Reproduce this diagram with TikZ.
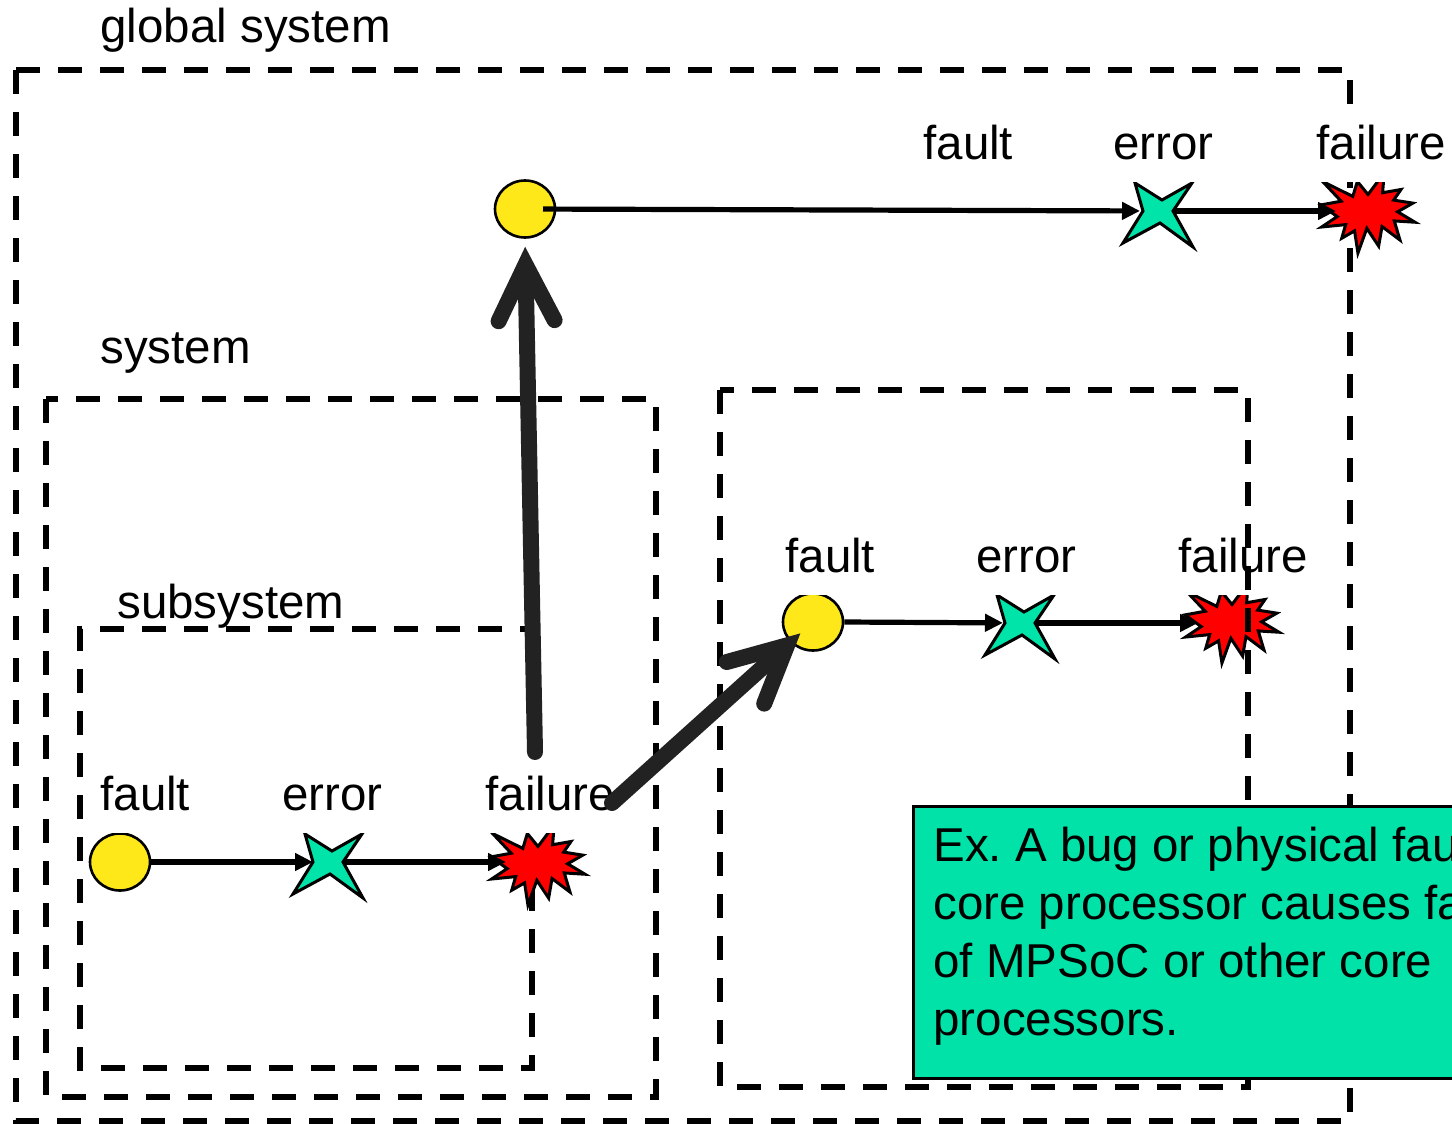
\documentclass[tikz,border=0pt]{standalone}
\usepackage{fontspec}
\setmainfont{Liberation Sans}
\usetikzlibrary{arrows.meta,shapes.geometric}

\definecolor{markyellow}{RGB}{255,232,26}
\definecolor{markgreen}{RGB}{0,228,170}
\definecolor{notegreen}{RGB}{0,226,168}
\definecolor{arrowgray}{RGB}{34,34,34}

\tikzset{
  boxline/.style={line width=2.6pt, dash pattern=on 12pt off 9pt},
  tag/.style={anchor=base west, inner sep=0pt, font=\fontsize{23.75}{29}\selectfont},
  rowtag/.style={tag, fill=white, inner xsep=2pt, text height=24pt, text depth=11.5pt},
  slot/.style={inner sep=0pt, minimum width=47pt, minimum height=40pt},
  yellowdot/.style={ellipse, draw=black, line width=1.3pt, fill=markyellow,
    minimum width=30pt, minimum height=28.5pt, inner sep=0pt},
  flow/.style={line width=2.6pt, -{Triangle[length=9pt,width=8.5pt]}},
  impact/.style={line width=8pt, draw=arrowgray, line cap=round,
    -{Straight Barb[length=28pt,width=28pt,line cap=round,line join=miter]}},
  notebox/.style={draw=black, line width=1.5pt, fill=notegreen, inner sep=0pt,
    minimum width=279pt, minimum height=136pt},
  fourstar/.pic={
    \draw[line width=1.5pt, fill=markgreen, line join=miter]
      (-23,-28) -- (4,-11) -- (34,-28) -- (15,0) -- (35,36) -- (2,12)
      -- (-35,32) -- (-15,0) -- cycle;},
  explosion/.pic={
    \draw[line width=1.5pt, fill=red, line join=miter, x=47pt, y=-40pt, shift={(-0.5,-0.5)}]
      (0.5,0.2685) -- (0.6723,0) -- (0.6553,0.2465) -- (0.8509,0.2063)
      -- (0.7732,0.3387) -- (0.9767,0.3767) -- (0.8151,0.4850) -- (1,0.6153)
      -- (0.7795,0.5992) -- (0.8400,0.8377) -- (0.6491,0.6693) -- (0.6133,0.9138)
      -- (0.4876,0.6914) -- (0.3928,1) -- (0.3572,0.7235) -- (0.2205,0.8156)
      -- (0.2624,0.6452) -- (0.00625,0.6753) -- (0.1723,0.5451) -- (0,0.3988)
      -- (0.2142,0.3526) -- (0.0171,0.1063) -- (0.3385,0.2926) -- (0.3867,0.1063)
      -- cycle;}
}

\begin{document}
\frenchspacing
\begin{tikzpicture}[x=0.5pt, y=-0.5pt]
  \useasboundingbox[fill=white] (0,0) rectangle (1452,1124);

  % nested system boundaries
  \draw[boxline] (16,70) rectangle (1350,1121);
  \draw[boxline] (46,399) rectangle (656,1097);
  \draw[boxline] (532,845) -- (532,1068) -- (80,1068) -- (80,629) -- (528,629);

  \node[tag] (tglobal) at (100,42) {global system};
  \node[tag] (tsystem) at (100,363) {system};
  \node[tag] (tsub) at (117,618) {subsystem};

  % fault / error / failure markers
  \node[yellowdot] (c1) at (120,862) {};
  \node[yellowdot] (c2) at (813,622) {};
  \node[yellowdot] (c3) at (525,209) {};

  \node[slot] (s1) at (328,862) {};
  \node[slot] (s2) at (1020,623) {};
  \node[slot] (s3) at (1158,211) {};
  \pic at (s1) {fourstar};
  \pic at (s2) {fourstar};
  \pic at (s3) {fourstar};

  \node[slot] (e1) at (538,865) {};
  \node[slot] (e2) at (1232,623) {};
  \node[slot] (e3) at (1368,213) {};
  \pic at (e1) {explosion};
  \pic at (e2) {explosion};
  \pic at (e3) {explosion};

  % row labels
  \node[rowtag] (f1) at (96,810) {fault};
  \node[rowtag] (r1) at (278,810) {error};
  \node[rowtag] (x1) at (481,810) {failure};
  \node[rowtag] (f2) at (781,572) {fault};
  \node[rowtag] (r2) at (972,572) {error};
  \node[rowtag] (x2) at (1174,572) {failure};
  \node[rowtag] (f3) at (919,159) {fault};
  \node[rowtag] (r3) at (1109,159) {error};
  \node[rowtag] (x3) at (1312,159) {failure};

  % neighbouring subsystem boundary
  \draw[boxline] (720,390) rectangle (1248,1087);

  % propagation inside each level
  \draw[flow, shorten >=7.5pt] (c1.east) -- (s1.center);
  \draw[flow, shorten <=7.5pt, shorten >=16pt] (s1.center) -- (e1.center |- s1.center);
  \draw[flow, shorten >=8.5pt] (c2.east) -- (s2.center);
  \draw[flow, shorten <=7.5pt, shorten >=17pt] (s2.center) -- (e2.center |- s2.center);
  \draw[flow, shorten <=9pt, shorten >=9pt] (c3.center) -- (s3.center);
  \draw[flow, shorten <=7.5pt, shorten >=16pt] (s3.center) -- (e3.center |- s3.center);

  % a failure becomes a fault of the enclosing / neighbouring system
  \coordinate (rise) at (535,752);
  \coordinate (spill) at (612,803);
  \draw[impact, shorten >=4pt] (rise) -- (c3.south);
  \draw[impact, shorten >=8.5pt] (spill) -- (c2.center);

  % example note
  \node[notebox, anchor=north west] (note) at (912,805) {};
  \node[tag, anchor=north west, align=left] (notetext) at (933,827)
    {Ex. A bug or physical fault\\core processor causes failure\\of MPSoC or other core\\processors.};
\end{tikzpicture}
\end{document}
